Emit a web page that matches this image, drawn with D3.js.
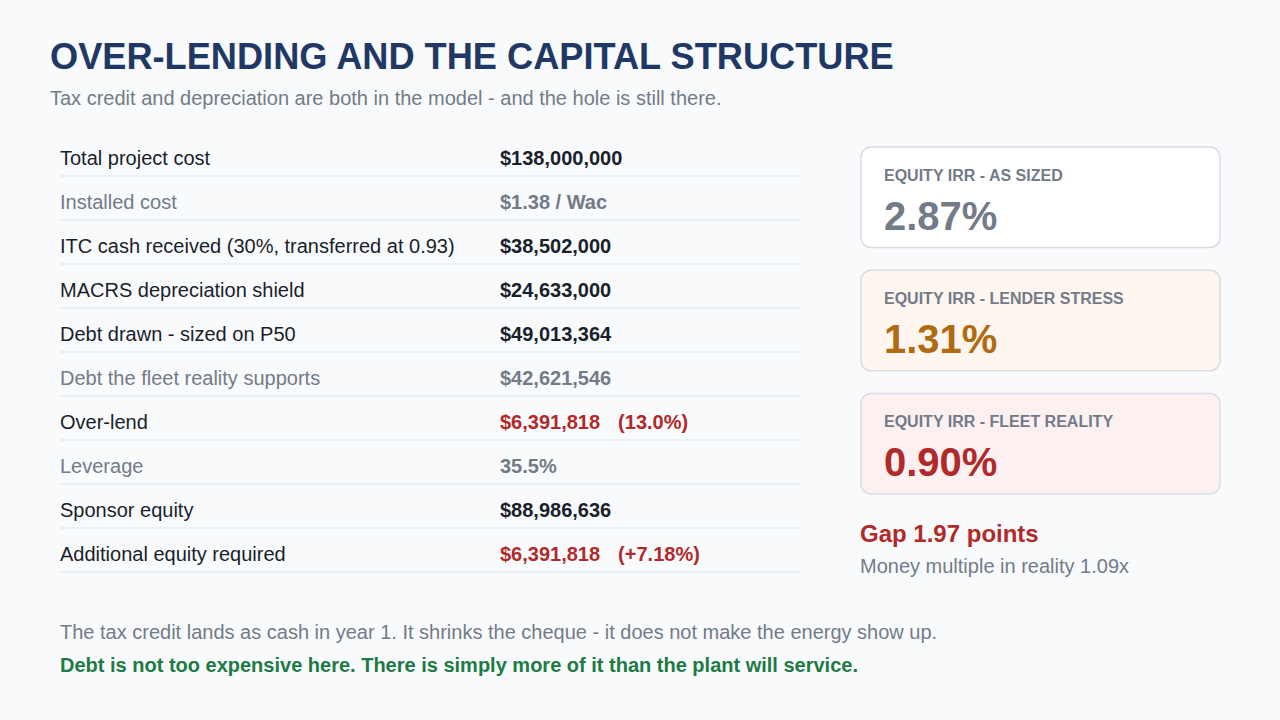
<!DOCTYPE html>
<html><head><meta charset="utf-8">
<script src="https://cdn.jsdelivr.net/npm/d3@7"></script>
<style>body{margin:0;background:#f8fafc;font-family:"Liberation Sans",Arial,sans-serif}</style>
</head><body>
<script>
"use strict";
// table rows: label, value, note, muted/red flags
const rowLabels = ["Total project cost","Installed cost","ITC cash received (30%, transferred at 0.93)","MACRS depreciation shield","Debt drawn - sized on P50","Debt the fleet reality supports","Over-lend","Leverage","Sponsor equity","Additional equity required"];
const rowValues = ["$138,000,000","$1.38 / Wac","$38,502,000","$24,633,000","$49,013,364","$42,621,546","$6,391,818","35.5%","$88,986,636","$6,391,818"];
const rowNotes = ["","","","","","","(13.0%)","","","(+7.18%)"];
const rowKinds = ["normal","muted","normal","normal","normal","muted","red","muted","normal","red"];

const cardLabels = ["EQUITY IRR - AS SIZED","EQUITY IRR - LENDER STRESS","EQUITY IRR - FLEET REALITY"];
const cardValues = ["2.87%","1.31%","0.90%"];
const cardKinds = ["plain","orange","red"];

const W = 1280, H = 720;
const svg = d3.select("body").append("svg").attr("width", W).attr("height", H);
svg.append("rect").attr("width", W).attr("height", H).attr("fill", "#f8fafc");

const C = {title:"#1f3864", text:"#1a1f2b", muted:"#737b88", red:"#b02a2a", orange:"#b06a12", green:"#1e7a44", line:"#dfe3e8"};

svg.append("text").attr("x", 50).attr("y", 69).attr("font-size", 36.2).attr("font-weight", "bold")
  .attr("fill", C.title).text("OVER-LENDING AND THE CAPITAL STRUCTURE");
svg.append("text").attr("x", 50).attr("y", 105).attr("font-size", 20).attr("fill", C.muted)
  .text("Tax credit and depreciation are both in the model - and the hole is still there.");

const y = d3.scaleBand().domain(d3.range(rowLabels.length)).range([136, 576]);
const colour = k => k === "muted" ? C.muted : k === "red" ? C.red : C.text;

const rows = svg.selectAll("g.row").data(rowLabels).join("g").attr("class", "row")
  .attr("transform", (d, i) => `translate(0,${y(i)})`);
rows.append("line").attr("x1", 60).attr("x2", 800).attr("y1", y.bandwidth()-4).attr("y2", y.bandwidth()-4)
  .attr("stroke", C.line);
rows.append("text").attr("x", 60).attr("y", 29).attr("font-size", 20)
  .attr("fill", (d, i) => rowKinds[i] === "muted" ? C.muted : C.text).text(d => d);
rows.append("text").attr("x", 500).attr("y", 29).attr("font-size", 20).attr("font-weight", "bold")
  .attr("fill", (d, i) => colour(rowKinds[i]))
  .text((d, i) => rowValues[i])
  .append("tspan").attr("dx", 18).text((d, i) => rowNotes[i]);

const cy = d3.scaleBand().domain(d3.range(cardLabels.length)).range([147, 494]).paddingInner(0.184);
const cardFill = {plain:"#ffffff", orange:"#fff6f0", red:"#fdf0f0"};
const cardText = {plain:C.muted, orange:C.orange, red:C.red};
const cards = svg.selectAll("g.card").data(cardLabels).join("g").attr("class", "card")
  .attr("transform", (d, i) => `translate(861,${cy(i)})`);
cards.append("rect").attr("width", 359).attr("height", cy.bandwidth()).attr("rx", 10)
  .attr("fill", (d, i) => cardFill[cardKinds[i]]).attr("stroke", "#d9dde3").attr("stroke-width", 1.5);
cards.append("text").attr("x", 23).attr("y", 34).attr("font-size", 16).attr("font-weight", "bold")
  .attr("fill", C.muted).text(d => d);
cards.append("text").attr("x", 23).attr("y", 83).attr("font-size", 40).attr("font-weight", "bold")
  .attr("fill", (d, i) => cardText[cardKinds[i]]).text((d, i) => cardValues[i]);

svg.append("text").attr("x", 860).attr("y", 542).attr("font-size", 24).attr("font-weight", "bold")
  .attr("fill", C.red).text("Gap 1.97 points");
svg.append("text").attr("x", 860).attr("y", 573).attr("font-size", 20).attr("fill", C.muted)
  .text("Money multiple in reality 1.09x");

svg.append("text").attr("x", 60).attr("y", 639).attr("font-size", 20).attr("fill", C.muted)
  .text("The tax credit lands as cash in year 1. It shrinks the cheque - it does not make the energy show up.");
svg.append("text").attr("x", 60).attr("y", 672).attr("font-size", 20).attr("font-weight", "bold").attr("fill", C.green)
  .text("Debt is not too expensive here. There is simply more of it than the plant will service.");
</script>
</body></html>
